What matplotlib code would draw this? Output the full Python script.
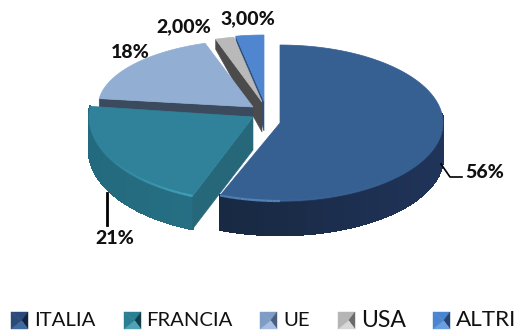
import numpy as np
import matplotlib.pyplot as plt
from matplotlib.collections import PolyCollection, LineCollection
from matplotlib.colors import LinearSegmentedColormap, to_rgba
from matplotlib.patches import Polygon

# quote per area
categorie = ['ITALIA', 'FRANCIA', 'UE', 'USA', 'ALTRI']
valori = [56, 21, 18, 2, 3]
etichette = ['56%', '21%', '18%', '2,00%', '3,00%']

# geometria di ogni spicchio: apice, semiassi, spessore vicino/lontano
apici = [(280, 123), (253, 117), (253, 107), (262, 102), (264, 101)]
semiassi = [(163, 78), (164, 85), (155, 67), (150, 66), (150, 66)]
spessori = [34, 33, 30, 30, 30]
colori_top = ['#365f92', '#2f8299', '#92aed3', '#b9b9b9', '#4f86cf']
colori_lato = [['#20345a', '#1a2b47', '#15263d'],
               ['#2a7a90', '#277186', '#246a7e'],
               ['#3c4a5e', '#3c4a5e', '#3c4a5e'],
               ['#4a4a4a', '#4a4a4a', '#4a4a4a'],
               ['#2f5688', '#2f5688', '#2f5688']]
colori_parete = [None, '#26677a', None, '#4b4b4b', '#2c4f7d']
colori_bordo = ['#5684ba', '#49aec6', None, None, None]

fig = plt.figure(figsize=(5.2, 3.31), dpi=100)
ax = fig.add_axes([0, 0, 1, 1])
ax.set_xlim(0, 520)
ax.set_ylim(331, 0)
ax.axis('off')


def punti(apice, assi, t):
    # angolo in radianti, orario a partire dalle ore 12
    return np.column_stack([apice[0] + assi[0] * np.sin(t), apice[1] - assi[1] * np.cos(t)])


limiti = np.radians(np.cumsum([0] + valori) * 3.6)

# si disegna dal fondo verso il davanti
for i in [4, 3, 2, 1, 0]:
    t = np.linspace(limiti[i], limiti[i + 1], 160)
    arco = punti(apici[i], semiassi[i], t)
    dz = spessori[i]

    # fianco esterno, solo dove guarda verso il basso
    cmap = LinearSegmentedColormap.from_list('lato', colori_lato[i][::-1])
    quad, col = [], []
    for k in range(len(t) - 1):
        if np.cos(t[k]) < 0.12:
            a, b = arco[k], arco[k + 1]
            quad.append([a, b, b + [0, dz], a + [0, dz]])
            col.append(cmap((np.sin(t[k]) + 1) / 2))
    if quad:
        ax.add_collection(PolyCollection(quad, facecolors=col, edgecolors=col, linewidths=1.2,
                                         antialiaseds=False, zorder=10 - i))

    # pareti di taglio
    p0 = np.array(apici[i], float)
    if i == 1:
        ax.add_patch(Polygon([p0, arco[0], arco[0] + [0, dz], p0 + [0, dz]], fc=colori_parete[i],
                             ec=colori_parete[i], lw=0.4, zorder=10 - i))
    if i == 2:
        ax.add_patch(Polygon([p0, arco[0], arco[0] + [0, 10], p0 + [0, 10]], fc='#3c4a5e',
                             ec='#3c4a5e', lw=0.4, zorder=10 - i))
    if i in (3, 4):
        lontano = 10 if i == 3 else 4
        ax.add_patch(Polygon([p0, arco[0], arco[0] + [0, lontano], p0 + [0, dz]],
                             fc=colori_parete[i], ec=colori_parete[i], lw=0.4, zorder=10 - i))

    # faccia superiore
    ax.add_patch(Polygon(np.vstack([apici[i], arco]), closed=True, fc=colori_top[i], ec=colori_top[i],
                         lw=0.5, zorder=10 - i + 0.1))

    # riflesso sul bordo anteriore
    if colori_bordo[i]:
        seg, rgba = [], []
        for k in range(len(t) - 1):
            if np.cos(t[k]) < 0:
                peso = abs(np.cos(t[k])) ** 3 * (1 if np.sin(t[k]) < 0 else 0.2)
                seg.append([arco[k], arco[k + 1]])
                rgba.append(to_rgba(colori_bordo[i], min(1, peso)))
        ax.add_collection(LineCollection(seg, colors=rgba, linewidths=1.6, zorder=10 - i + 0.2))

# etichette e linee guida
font = 'Lato'
pos_etichette = [(484.5, 172), (115, 238), (130.5, 53), (184, 27), (248, 19)]
for testo, (x, y) in zip(etichette, pos_etichette):
    ax.text(x, y, testo, ha='center', va='center', fontsize=14, fontweight='black',
            family=font, color='#111111', zorder=20)
ax.plot([441, 450, 462], [164, 177, 177], color='black', lw=1.2, zorder=20)
ax.plot([107, 107], [193, 225], color='black', lw=2, zorder=20)

# legenda con quadratini smussati
colori_leg = [('#2a4a78', '#12243e', '#3e6aa0'),
              ('#2b7f92', '#123f4c', '#4fa3b5'),
              ('#7f9cc4', '#4a5f80', '#a7bee0'),
              ('#b5b5b5', '#6a6a6a', '#d8d8d8'),
              ('#4a86d0', '#27466f', '#6aa0e0')]
x_leg = [11, 124, 260, 338, 433]
x_txt = [34, 146, 283, 361, 456]
dim_txt = [14.6, 14.6, 14.6, 16.6, 16.2]
y0, lato_q = 312, 17
for nome, xq, xt, fs, (c1, c2, c3) in zip(categorie, x_leg, x_txt, dim_txt, colori_leg):
    cx, cy = xq + lato_q * 0.62, y0 + lato_q / 2
    tl, tr, br, bl = (xq, y0), (xq + lato_q, y0), (xq + lato_q, y0 + lato_q), (xq, y0 + lato_q)
    ax.add_patch(Polygon([tl, tr, (cx, cy)], fc=c1, ec=c1, lw=0.3, zorder=20))
    ax.add_patch(Polygon([tr, br, (cx, cy)], fc=c2, ec=c2, lw=0.3, zorder=20))
    ax.add_patch(Polygon([br, bl, (cx, cy)], fc=c3, ec=c3, lw=0.3, zorder=20))
    ax.add_patch(Polygon([bl, tl, (cx, cy)], fc=c1, ec=c1, lw=0.3, zorder=20))
    ax.text(xt, y0 + lato_q / 2, nome, ha='left', va='center', fontsize=fs, family=font,
            color='#111111', zorder=20)

fig.savefig('out.png', dpi=100)
